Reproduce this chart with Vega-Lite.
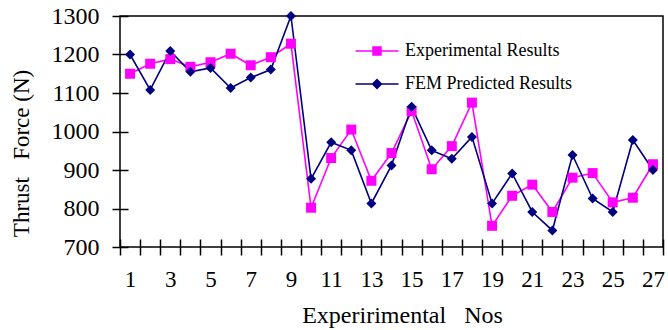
{
  "$schema": "https://vega.github.io/schema/vega-lite/v6.json",
  "autosize": "none",
  "width": 543,
  "height": 231,
  "padding": {"left": 120, "top": 16, "right": 5, "bottom": 83},
  "background": "white",
  "config": {
    "font": "Liberation Serif",
    "view": {"stroke": "#000", "strokeWidth": 1.5},
    "axis": {"labelFont": "Liberation Serif", "titleFont": "Liberation Serif", "labelColor": "#000", "titleColor": "#000", "tickColor": "#000", "titleFontWeight": "normal", "grid": false},
    "legend": {"labelFont": "Liberation Serif", "labelFontSize": 18, "labelColor": "#000", "labelLimit": 400}
  },
  "data": {"values": [
    {"no": 1, "series": "Experimental Results", "force": 1150},
    {"no": 2, "series": "Experimental Results", "force": 1176},
    {"no": 3, "series": "Experimental Results", "force": 1188},
    {"no": 4, "series": "Experimental Results", "force": 1168},
    {"no": 5, "series": "Experimental Results", "force": 1180},
    {"no": 6, "series": "Experimental Results", "force": 1202},
    {"no": 7, "series": "Experimental Results", "force": 1172},
    {"no": 8, "series": "Experimental Results", "force": 1193},
    {"no": 9, "series": "Experimental Results", "force": 1228},
    {"no": 10, "series": "Experimental Results", "force": 802},
    {"no": 11, "series": "Experimental Results", "force": 931},
    {"no": 12, "series": "Experimental Results", "force": 1005},
    {"no": 13, "series": "Experimental Results", "force": 872},
    {"no": 14, "series": "Experimental Results", "force": 944},
    {"no": 15, "series": "Experimental Results", "force": 1053},
    {"no": 16, "series": "Experimental Results", "force": 902},
    {"no": 17, "series": "Experimental Results", "force": 962},
    {"no": 18, "series": "Experimental Results", "force": 1075},
    {"no": 19, "series": "Experimental Results", "force": 755},
    {"no": 20, "series": "Experimental Results", "force": 833},
    {"no": 21, "series": "Experimental Results", "force": 862},
    {"no": 22, "series": "Experimental Results", "force": 791},
    {"no": 23, "series": "Experimental Results", "force": 880},
    {"no": 24, "series": "Experimental Results", "force": 892},
    {"no": 25, "series": "Experimental Results", "force": 816},
    {"no": 26, "series": "Experimental Results", "force": 828},
    {"no": 27, "series": "Experimental Results", "force": 915},
    {"no": 1, "series": "FEM Predicted Results", "force": 1200},
    {"no": 2, "series": "FEM Predicted Results", "force": 1108},
    {"no": 3, "series": "FEM Predicted Results", "force": 1209},
    {"no": 4, "series": "FEM Predicted Results", "force": 1155},
    {"no": 5, "series": "FEM Predicted Results", "force": 1165},
    {"no": 6, "series": "FEM Predicted Results", "force": 1113},
    {"no": 7, "series": "FEM Predicted Results", "force": 1140},
    {"no": 8, "series": "FEM Predicted Results", "force": 1161},
    {"no": 9, "series": "FEM Predicted Results", "force": 1300},
    {"no": 10, "series": "FEM Predicted Results", "force": 877},
    {"no": 11, "series": "FEM Predicted Results", "force": 972},
    {"no": 12, "series": "FEM Predicted Results", "force": 951},
    {"no": 13, "series": "FEM Predicted Results", "force": 813},
    {"no": 14, "series": "FEM Predicted Results", "force": 912},
    {"no": 15, "series": "FEM Predicted Results", "force": 1064},
    {"no": 16, "series": "FEM Predicted Results", "force": 951},
    {"no": 17, "series": "FEM Predicted Results", "force": 929},
    {"no": 18, "series": "FEM Predicted Results", "force": 986},
    {"no": 19, "series": "FEM Predicted Results", "force": 813},
    {"no": 20, "series": "FEM Predicted Results", "force": 891},
    {"no": 21, "series": "FEM Predicted Results", "force": 791},
    {"no": 22, "series": "FEM Predicted Results", "force": 743},
    {"no": 23, "series": "FEM Predicted Results", "force": 939},
    {"no": 24, "series": "FEM Predicted Results", "force": 826},
    {"no": 25, "series": "FEM Predicted Results", "force": 791},
    {"no": 26, "series": "FEM Predicted Results", "force": 978},
    {"no": 27, "series": "FEM Predicted Results", "force": 900}
  ]},
  "encoding": {
    "x": {
      "field": "no", "type": "ordinal",
      "scale": {"type": "band", "paddingInner": 0, "paddingOuter": 0},
      "axis": {
        "title": "Experirimental\u00a0\u00a0\u00a0Nos",
        "titleFontSize": 24, "titleX": 282, "titleY": 83, "titleBaseline": "alphabetic", "titleAnchor": null,
        "labelAngle": 0, "labelFontSize": 23, "labelOverlap": false,
        "labelExpr": "datum.value % 2 == 1 ? datum.label : ''",
        "tickBand": "extent", "tickSize": 16, "tickWidth": 1.5, "offset": -8,
        "domain": false, "labelPadding": 13
      }
    },
    "y": {
      "field": "force", "type": "quantitative",
      "scale": {"domain": [700, 1300], "nice": false, "zero": false},
      "axis": {
        "title": "Thrust\u00a0\u00a0\u00a0Force (N)",
        "titleFontSize": 23, "titleAngle": -90, "titleX": -100, "titleY": 137, "titleBaseline": "alphabetic", "titleAnchor": null,
        "values": [700, 800, 900, 1000, 1100, 1200, 1300], "format": "d",
        "labelFontSize": 24, "tickSize": 16, "tickWidth": 1.5, "offset": -8,
        "domain": false, "labelPadding": 13
      }
    }
  },
  "layer": [
    {
      "layer": [
        {
          "mark": {"type": "line", "strokeWidth": 1.6},
          "encoding": {
            "color": {"field": "series", "type": "nominal", "legend": null,
              "scale": {"domain": ["Experimental Results", "FEM Predicted Results"], "range": ["#FF00FF", "#000080"]}}
          }
        },
        {
          "mark": {"type": "point", "filled": true, "opacity": 1},
          "encoding": {
            "color": {"field": "series", "type": "nominal", "legend": null,
              "scale": {"domain": ["Experimental Results", "FEM Predicted Results"], "range": ["#FF00FF", "#000080"]}},
            "shape": {"field": "series", "type": "nominal", "legend": null,
              "scale": {"domain": ["Experimental Results", "FEM Predicted Results"], "range": ["square", "diamond"]}},
            "size": {"value": 100}
          }
        }
      ]
    },
    {
      "transform": [{"filter": "false"}],
      "mark": {"type": "point", "filled": true, "opacity": 1},
      "encoding": {
        "color": {"field": "series", "type": "nominal",
          "scale": {"domain": ["Experimental Results", "FEM Predicted Results"], "range": ["#FF00FF", "#000080"]},
          "legend": {
            "title": null, "orient": "none", "legendX": 248, "legendY": 26, "padding": 0,
            "labelFont": "Liberation Serif", "labelFontSize": 18, "labelColor": "#000", "labelLimit": 400,
            "symbolSize": 100, "labelOffset": 19, "rowPadding": 15, "symbolOpacity": 1, "symbolStrokeWidth": 0
          }
        },
        "shape": {"field": "series", "type": "nominal", "legend": null,
          "scale": {"domain": ["Experimental Results", "FEM Predicted Results"], "range": ["M-4.3,-0.16H4.3V0.16H-4.3Z M-0.95,-0.95H0.95V0.95H-0.95Z", "M-4.3,-0.16H4.3V0.16H-4.3Z M-1.1,0L0,-1.1L1.1,0L0,1.1Z"]}},
        "size": {"value": 100}
      }
    }
  ],
  "resolve": {"scale": {"shape": "independent", "color": "independent"}}
}
